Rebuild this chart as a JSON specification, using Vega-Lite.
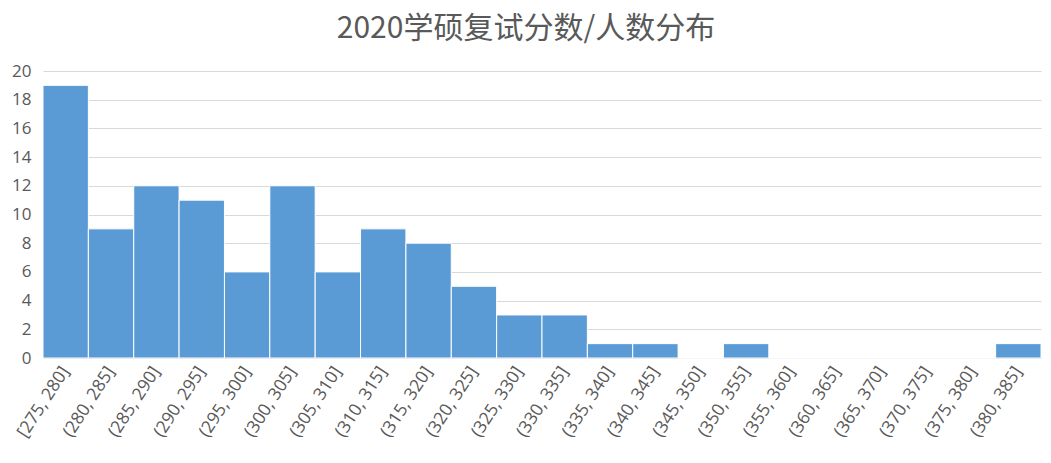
{
  "$schema": "https://vega.github.io/schema/vega-lite/v6.json",
  "autosize": "none",
  "width": 998,
  "height": 287,
  "padding": {"left": 43, "top": 71, "right": 10, "bottom": 105},
  "background": "white",
  "title": {
    "text": "2020学硕复试分数/人数分布",
    "font": "Noto Sans CJK SC",
    "fontSize": 30,
    "fontWeight": "normal",
    "color": "#595959",
    "offset": 18,
    "dx": -16,
    "anchor": "middle"
  },
  "data": {
    "values": [
      {"bin": "[275, 280]", "count": 19},
      {"bin": "(280, 285]", "count": 9},
      {"bin": "(285, 290]", "count": 12},
      {"bin": "(290, 295]", "count": 11},
      {"bin": "(295, 300]", "count": 6},
      {"bin": "(300, 305]", "count": 12},
      {"bin": "(305, 310]", "count": 6},
      {"bin": "(310, 315]", "count": 9},
      {"bin": "(315, 320]", "count": 8},
      {"bin": "(320, 325]", "count": 5},
      {"bin": "(325, 330]", "count": 3},
      {"bin": "(330, 335]", "count": 3},
      {"bin": "(335, 340]", "count": 1},
      {"bin": "(340, 345]", "count": 1},
      {"bin": "(345, 350]", "count": 0},
      {"bin": "(350, 355]", "count": 1},
      {"bin": "(355, 360]", "count": 0},
      {"bin": "(360, 365]", "count": 0},
      {"bin": "(365, 370]", "count": 0},
      {"bin": "(370, 375]", "count": 0},
      {"bin": "(375, 380]", "count": 0},
      {"bin": "(380, 385]", "count": 1}
    ]
  },
  "mark": {"type": "bar", "color": "#5B9BD5", "stroke": "white", "strokeWidth": 1},
  "encoding": {
    "x": {
      "field": "bin",
      "type": "nominal",
      "sort": null,
      "scale": {"paddingInner": 0, "paddingOuter": 0},
      "axis": {
        "title": null,
        "labelAngle": -57,
        "labelFont": "Open Sans",
        "labelFontSize": 17.5,
        "labelColor": "#595959",
        "labelPadding": 10,
        "labelOverlap": false,
        "labelLimit": 200,
        "ticks": false,
        "domain": true,
        "domainColor": "#D9D9D9",
        "grid": false
      }
    },
    "y": {
      "field": "count",
      "type": "quantitative",
      "scale": {"domain": [0, 20], "nice": false},
      "axis": {
        "title": null,
        "values": [0, 2, 4, 6, 8, 10, 12, 14, 16, 18, 20],
        "labelFont": "Open Sans",
        "labelFontSize": 17,
        "labelColor": "#595959",
        "labelPadding": 12,
        "ticks": false,
        "domain": false,
        "grid": true,
        "gridColor": "#D9D9D9",
        "gridWidth": 1
      }
    }
  },
  "config": {"view": {"stroke": null}}
}
